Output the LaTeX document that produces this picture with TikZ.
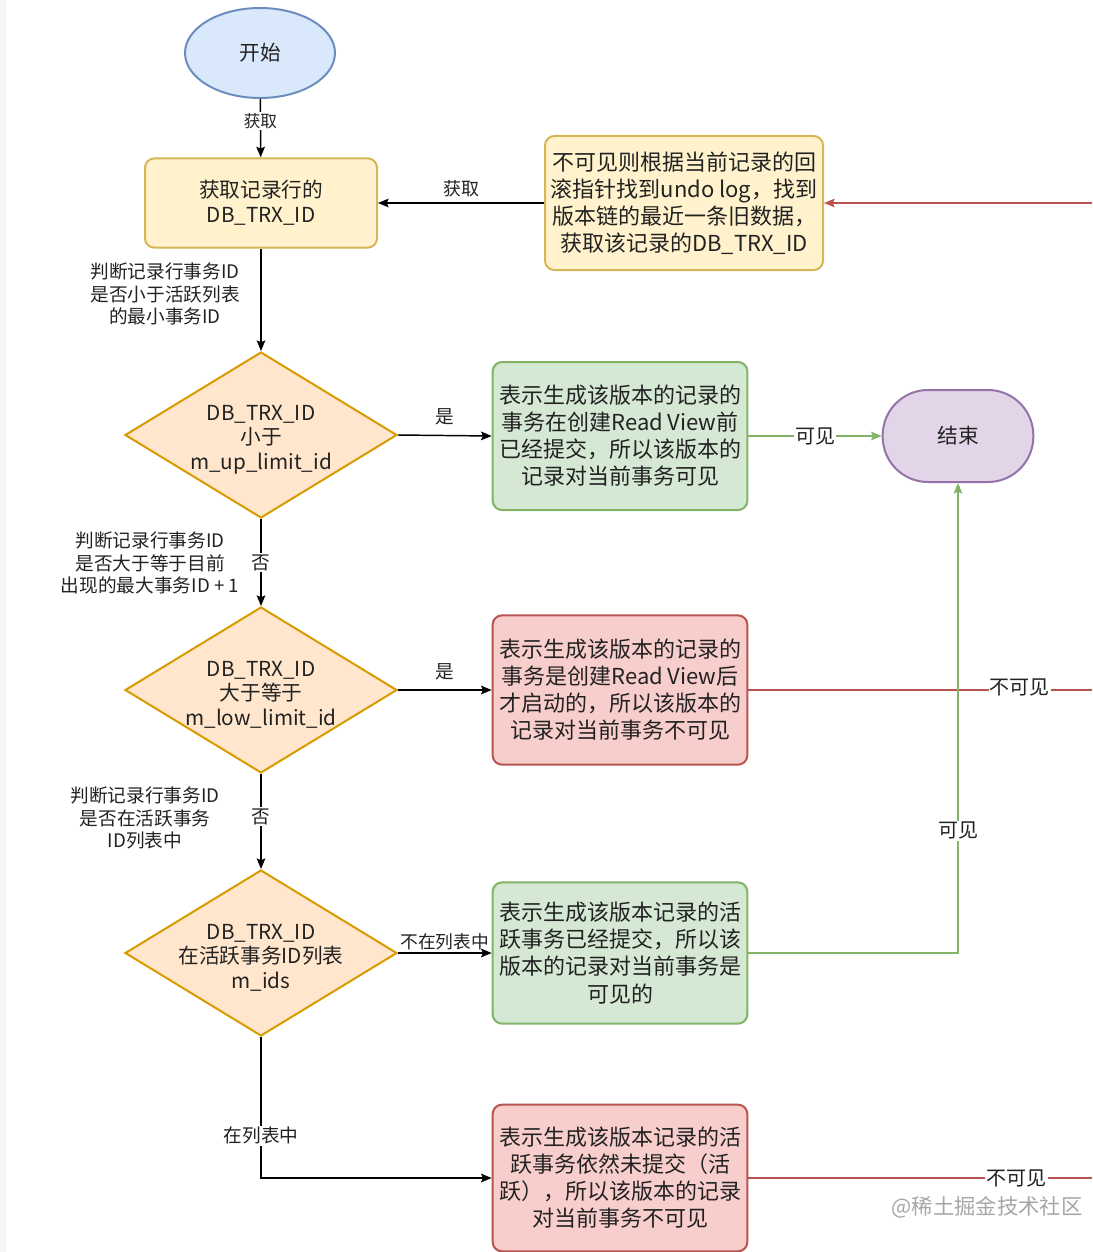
\documentclass[tikz,border=0pt]{standalone}
\usepackage{fontspec}
\setmainfont{Noto Sans CJK SC}
\usetikzlibrary{shapes.geometric,arrows.meta}
\definecolor{bluefill}{HTML}{DAE8FC}
\definecolor{bluestroke}{HTML}{6C8EBF}
\definecolor{yelfill}{HTML}{FFF2CC}
\definecolor{yelstroke}{HTML}{D6B656}
\definecolor{orfill}{HTML}{FFE6CC}
\definecolor{orstroke}{HTML}{D79B00}
\definecolor{grfill}{HTML}{D5E8D4}
\definecolor{grstroke}{HTML}{82B366}
\definecolor{rdfill}{HTML}{F8CECC}
\definecolor{rdstroke}{HTML}{B85450}
\definecolor{pufill}{HTML}{E1D5E7}
\definecolor{pustroke}{HTML}{9673A6}
\definecolor{txt}{HTML}{222222}
\begin{document}
\begin{tikzpicture}[x=0.75pt,y=-0.75pt,
  every node/.style={text=txt},
  boxbase/.style={draw,line width=1.5pt,rounded corners=7pt,align=center,inner sep=2pt},
  yelbox/.style={boxbase,fill=yelfill,draw=yelstroke},
  grbox/.style={boxbase,fill=grfill,draw=grstroke},
  rdbox/.style={boxbase,fill=rdfill,draw=rdstroke},
  bigtxt/.style={font=\fontsize{16.5}{20.3}\selectfont},
  midtxt/.style={font=\fontsize{15.5}{18.5}\selectfont},
  decision/.style={diamond,draw=orstroke,fill=orfill,line width=1.5pt,aspect=1.64,minimum width=204pt,minimum height=124.5pt,inner sep=0pt},
  dtext/.style={midtxt,align=center,inner sep=0pt,yshift=-3.5pt},
  lbl/.style={font=\fontsize{14}{17}\selectfont,align=center,inner sep=1pt},
  onl/.style={fill=white,inner sep=1pt},
  conn/.style={line width=1.1pt,draw=black},
  tip/.style={-{Stealth[length=8pt,width=6.5pt,inset=1.5pt]}},
  greenline/.style={line width=1.1pt,draw=grstroke},
  redline/.style={line width=1.1pt,draw=rdstroke},
]
\useasboundingbox (0,0) rectangle (1092,1252);
\fill[gray!8] (0,0) rectangle (6,1252);

% nodes
\node[ellipse,draw=bluestroke,fill=bluefill,line width=1.5pt,minimum width=112.5pt,minimum height=67.5pt,inner sep=0pt,midtxt] (start) at (260,53) {开始};
\node[yelbox,midtxt,minimum width=174pt,minimum height=67pt] (rec) at (261,203) {获取记录行的\\DB\_TRX\_ID};
\node[yelbox,bigtxt,minimum width=208.5pt,minimum height=100.5pt,inner sep=1pt] (undo) at (684,203) {不可见则根据当前记录的回\\滚指针找到undo log，找到\\版本链的最近一条旧数据，\\获取该记录的DB\_TRX\_ID};

\node[decision] (d1) at (261,435) {};
\node[dtext] (d1t) at (d1) {DB\_TRX\_ID\\小于\\m\_up\_limit\_id};
\node[decision] (d2) at (261,690) {};
\node[dtext] (d2t) at (d2) {DB\_TRX\_ID\\大于等于\\m\_low\_limit\_id};
\node[decision] (d3) at (261,953) {};
\node[dtext] (d3t) at (d3) {DB\_TRX\_ID\\在活跃事务ID列表\\m\_ids};

\node[grbox,bigtxt,minimum width=191pt,minimum height=111pt] (g1) at (620,436) {表示生成该版本的记录的\\事务在创建Read View前\\已经提交，所以该版本的\\记录对当前事务可见};
\node[rdbox,bigtxt,minimum width=191pt,minimum height=112pt] (r1) at (620,690) {表示生成该版本的记录的\\事务是创建Read View后\\才启动的，所以该版本的\\记录对当前事务不可见};
\node[grbox,bigtxt,minimum width=191pt,minimum height=106pt] (g2) at (620,953) {表示生成该版本记录的活\\跃事务已经提交，所以该\\版本的记录对当前事务是\\可见的};
\node[rdbox,bigtxt,minimum width=191pt,minimum height=110pt] (r2) at (620,1178) {表示生成该版本记录的活\\跃事务依然未提交（活\\跃），所以该版本的记录\\对当前事务不可见};

\node[draw=pustroke,fill=pufill,line width=1.5pt,rectangle,rounded corners=34pt,minimum width=113pt,minimum height=69pt,midtxt] (end) at (958,436) {结束};

% free ends at the right edge
\coordinate (etop) at (1092,203);
\coordinate (e1) at (1092,690);
\coordinate (e2) at (1092,1178);

% connectors
\draw[conn,tip] (start) -- node[pos=0.38,onl,font=\fontsize{12.5}{15}\selectfont] {获取} (rec);
\draw[conn,tip] (undo.west) -- node[above=1pt,font=\fontsize{13.5}{16}\selectfont] {获取} (rec.east);
\draw[redline,tip] (etop) -- (undo.east);

\draw[conn,tip] (rec.south) -- (d1.north);
\node[lbl] (l1) at (165,294) {判断记录行事务ID\\是否小于活跃列表\\的最小事务ID};

\draw[conn,tip] (d1.east) -- node[above=6pt,lbl] {是} (g1.west);
\draw[greenline,tip] (g1.east) -- node[onl,font=\fontsize{15}{18}\selectfont] {可见} (end.west);

\draw[conn,tip] (d1.south) -- node[onl,lbl] {否} (d2.north);
\node[lbl] (l2) at (150,563) {判断记录行事务ID\\是否大于等于目前\\出现的最大事务ID + 1};

\draw[conn,tip] (d2.east) -- node[above=6pt,lbl] {是} (r1.west);
\draw[redline] (r1.east) -- node[pos=0.79,onl,font=\fontsize{15}{18}\selectfont,yshift=2pt] {不可见} (e1);

\draw[conn,tip] (d2.south) -- node[onl,lbl,pos=0.45] {否} (d3.north);
\node[lbl] (l3) at (145,818) {判断记录行事务ID\\是否在活跃事务\\ID列表中};

\draw[conn,tip] (d3.east) -- node[above=1pt,font=\fontsize{13.3}{16}\selectfont,inner sep=1pt] {不在列表中} (g2.west);
\draw[greenline,tip] (g2.east) -| node[pos=0.63,onl,font=\fontsize{15}{18}\selectfont] {可见} (end.south);

\draw[conn,tip] (d3.south) |- node[pos=0.35,onl,lbl] {在列表中} (r2.west);
\draw[redline] (r2.east) -- node[pos=0.78,onl,font=\fontsize{15}{18}\selectfont] {不可见} (e2);

\node[text=gray!70,font=\fontsize{16}{18}\selectfont] (wm) at (987,1207) {@稀土掘金技术社区};
\end{tikzpicture}
\end{document}
